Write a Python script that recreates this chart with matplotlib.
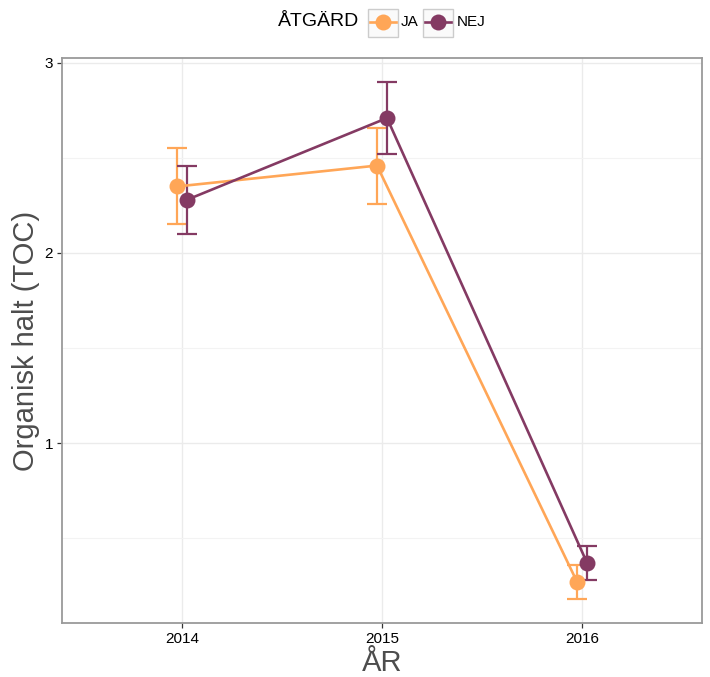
import matplotlib.pyplot as plt
import matplotlib as mpl
import numpy as np
from matplotlib.lines import Line2D
from matplotlib.patches import Rectangle

mpl.rcParams.update({
    'font.family': ['Liberation Sans', 'DejaVu Sans'],
})

# ── data ──
years = ['2014', '2015', '2016']
groups = ['JA', 'NEJ']
ja_mean = [2.35, 2.46, 0.27]
ja_err = [0.20, 0.20, 0.09]
nej_mean = [2.28, 2.71, 0.37]
nej_err = [0.18, 0.19, 0.09]

C_JA = '#FFA657'
C_NEJ = '#843A63'
GRID = '#EBEBEB'

W, H = 710, 677
fig = plt.figure(figsize=(W / 100, H / 100), dpi=100)
ax = fig.add_axes([62 / W, 1 - 623 / H, 640 / W, 565 / H])

x = np.arange(len(years))
dodge = 0.025
series = [(ja_mean, ja_err, C_JA, -dodge), (nej_mean, nej_err, C_NEJ, dodge)]

for mean, err, col, off in series:
    ax.errorbar(x + off, mean, yerr=err, fmt='none', ecolor=col,
                elinewidth=1.6, capsize=7.2, capthick=1.6, zorder=3)
for mean, err, col, off in series:
    ax.plot(x + off, mean, color=col, lw=1.9, zorder=4,
            solid_capstyle='butt')
for mean, err, col, off in series:
    ax.plot(x + off, mean, 'o', color=col, ms=11.5, mec='none', zorder=5)

ax.set_xlim(-0.6, 2.6)
ax.set_ylim(0.053, 3.026)
ax.set_xticks(x)
ax.set_xticklabels(years)
ax.set_yticks([1, 2, 3])
ax.set_yticks([0.5, 1.5, 2.5], minor=True)
ax.tick_params(axis='y', which='minor', length=0)
ax.grid(which='major', color=GRID, lw=1.0, zorder=0)
ax.grid(which='minor', axis='y', color='#F3F3F3', lw=0.8, zorder=0)
ax.set_axisbelow(True)
ax.tick_params(axis='both', which='major', length=3.5, width=0.9,
               color='#333333', labelsize=11, labelcolor='black', pad=3)
for s in ax.spines.values():
    s.set_color('#9A9A9A')
    s.set_linewidth(1.3)

ax.set_ylabel('Organisk halt (TOC)', fontsize=21, color='#4D4D4D', labelpad=3)
ax.set_xlabel('ÅR', fontsize=21, color='#4D4D4D', labelpad=2)

# ── legend on top ──
def fx(px):
    return px / W

def fy(py):
    return 1 - py / H

fig.text(fx(278), fy(22), 'ÅTGÄRD', fontsize=14, va='center', ha='left')
keys = [(368, C_JA, 'JA', 401), (423, C_NEJ, 'NEJ', 457)]
for kx, col, lab, tx in keys:
    fig.patches.append(Rectangle((fx(kx), fy(37)), fx(30), 28 / H,
                                 transform=fig.transFigure, facecolor='#FAFAFA',
                                 edgecolor='#CCCCCC', lw=1.0))
    fig.lines.append(Line2D([fx(kx + 2), fx(kx + 28)], [fy(22), fy(22)],
                            transform=fig.transFigure, color=col, lw=1.9))
    fig.lines.append(Line2D([fx(kx + 15)], [fy(22)], transform=fig.transFigure,
                            marker='o', ms=11.5, color=col, mec='none'))
    fig.text(fx(tx), fy(22), lab, fontsize=11, va='center', ha='left')

fig.savefig('out.png', dpi=100)
